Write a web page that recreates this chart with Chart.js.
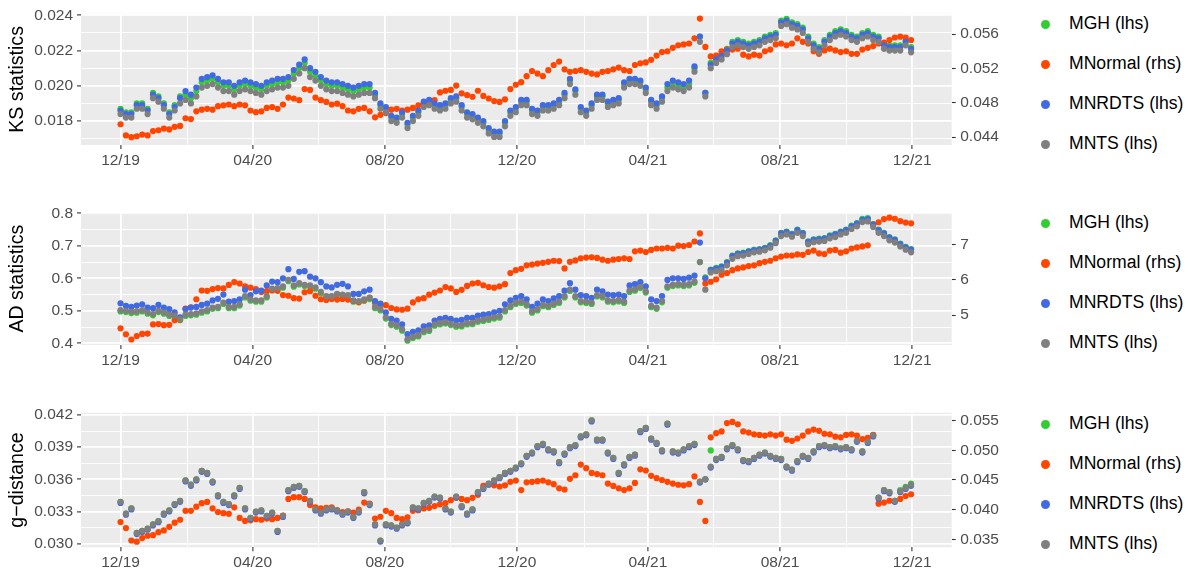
<!DOCTYPE html>
<html>
<head>
<meta charset="utf-8">
<script src="https://cdn.jsdelivr.net/npm/chart.js@4.4.1/dist/chart.umd.min.js"></script>
<style>
  html, body { margin: 0; padding: 0; background: #ffffff; }
  #wrap { position: relative; width: 1193px; height: 574px; overflow: hidden;
          font-family: "Liberation Sans", Arial, Helvetica, sans-serif; }
  #wrap canvas { position: absolute; left: 0; }
  .key { position: absolute; left: 1040px; height: 0; width: 150px; }
  .key .dot { position: absolute; left: 0.5px; top: -4.5px; width: 9px; height: 9px; border-radius: 50%; }
  .key .txt { position: absolute; left: 29px; top: 0; transform: translateY(-50%);
              font-size: 17.6px; line-height: 1; white-space: nowrap; color: #000; }
</style>
</head>
<body>
<div id="wrap">
  <canvas id="ks" width="1010" height="180" style="top:0px"></canvas>
  <canvas id="ad" width="1010" height="185" style="top:190px"></canvas>
  <canvas id="gd" width="1010" height="184" style="top:390px"></canvas>
</div>
<script>
// Daily statistics sampled every five days, starting 1 December 2019.
const START = Date.UTC(2019, 11, 1);
const STEP_DAYS = 5;
const DAY_MS = 86400000;

// ---- KS statistics ----
const ksMNTS = [
  0.0184, 0.0182, 0.0182, 0.0187, 0.0187, 0.0184, 0.0193, 0.0191, 0.0187, 0.0182,
  0.0186, 0.0190, 0.0192, 0.0190, 0.0194, 0.0199, 0.0200, 0.0201, 0.0199, 0.0197,
  0.0197, 0.0195, 0.0197, 0.0198, 0.0197, 0.0196, 0.0195, 0.0197, 0.0198, 0.0199,
  0.0199, 0.0200, 0.0204, 0.0207, 0.0210, 0.0205, 0.0203, 0.0200, 0.0198, 0.0197,
  0.0197, 0.0196, 0.0195, 0.0194, 0.0195, 0.0196, 0.0196, 0.0193, 0.0187, 0.0185,
  0.0180, 0.0179, 0.0182, 0.0176, 0.0180, 0.0183, 0.0188, 0.0189, 0.0187, 0.0186,
  0.0187, 0.0190, 0.0191, 0.0186, 0.0182, 0.0181, 0.0179, 0.0177, 0.0173, 0.0171,
  0.0171, 0.0177, 0.0183, 0.0185, 0.0189, 0.0189, 0.0184, 0.0183, 0.0186, 0.0186,
  0.0187, 0.0189, 0.0193, 0.0201, 0.0195, 0.0185, 0.0183, 0.0187, 0.0192, 0.0192,
  0.0188, 0.0189, 0.0190, 0.0199, 0.0201, 0.0201, 0.0200, 0.0196, 0.0189, 0.0187,
  0.0191, 0.0197, 0.0199, 0.0198, 0.0197, 0.0199, 0.0208, 0.0225, 0.0194, 0.0210,
  0.0213, 0.0215, 0.0218, 0.0222, 0.0223, 0.0222, 0.0221, 0.0222, 0.0223, 0.0225,
  0.0226, 0.0227, 0.0234, 0.0235, 0.0233, 0.0232, 0.0230, 0.0225, 0.0221, 0.0219,
  0.0223, 0.0226, 0.0228, 0.0229, 0.0228, 0.0226, 0.0225, 0.0227, 0.0228, 0.0226,
  0.0225, 0.0221, 0.0220, 0.0220, 0.0220, 0.0223, 0.0219
];
const ksMNRDTS = [
  0.0186, 0.0184, 0.0184, 0.0189, 0.0189, 0.0186, 0.0195, 0.0193, 0.0189, 0.0184,
  0.0188, 0.0193, 0.0197, 0.0195, 0.0199, 0.0204, 0.0205, 0.0206, 0.0204, 0.0202,
  0.0202, 0.0200, 0.0202, 0.0203, 0.0202, 0.0201, 0.0200, 0.0202, 0.0203, 0.0204,
  0.0204, 0.0205, 0.0209, 0.0212, 0.0215, 0.0210, 0.0208, 0.0205, 0.0203, 0.0202,
  0.0202, 0.0201, 0.0200, 0.0199, 0.0200, 0.0201, 0.0201, 0.0196, 0.0190, 0.0188,
  0.0183, 0.0182, 0.0185, 0.0179, 0.0183, 0.0186, 0.0191, 0.0192, 0.0190, 0.0189,
  0.0190, 0.0193, 0.0194, 0.0189, 0.0185, 0.0184, 0.0182, 0.0180, 0.0176, 0.0174,
  0.0174, 0.0180, 0.0186, 0.0188, 0.0192, 0.0192, 0.0187, 0.0186, 0.0189, 0.0189,
  0.0190, 0.0192, 0.0196, 0.0204, 0.0198, 0.0188, 0.0186, 0.0190, 0.0195, 0.0195,
  0.0191, 0.0192, 0.0193, 0.0202, 0.0204, 0.0204, 0.0203, 0.0199, 0.0192, 0.0190,
  0.0194, 0.0201, 0.0203, 0.0202, 0.0201, 0.0203, 0.0211, 0.0228, 0.0196, 0.0212,
  0.0215, 0.0217, 0.0220, 0.0224, 0.0225, 0.0224, 0.0223, 0.0224, 0.0225, 0.0227,
  0.0228, 0.0229, 0.0236, 0.0237, 0.0235, 0.0234, 0.0232, 0.0227, 0.0223, 0.0221,
  0.0225, 0.0228, 0.0230, 0.0231, 0.0230, 0.0228, 0.0227, 0.0229, 0.0230, 0.0228,
  0.0227, 0.0223, 0.0222, 0.0222, 0.0222, 0.0225, 0.0221
];
const ksMGH = [
  0.0187, 0.0185, 0.0185, 0.0190, 0.0190, 0.0187, 0.0196, 0.0194, 0.0190, 0.0185,
  0.0189, 0.0194, 0.0195, 0.0193, 0.0197, 0.0202, 0.0203, 0.0204, 0.0202, 0.0200,
  0.0200, 0.0198, 0.0200, 0.0201, 0.0200, 0.0199, 0.0198, 0.0200, 0.0201, 0.0202,
  0.0202, 0.0203, 0.0207, 0.0210, 0.0213, 0.0208, 0.0206, 0.0203, 0.0201, 0.0200,
  0.0200, 0.0199, 0.0198, 0.0197, 0.0198, 0.0199, 0.0199, 0.0195, 0.0189, 0.0187,
  0.0182, 0.0181, 0.0184, 0.0178, 0.0182, 0.0185, 0.0190, 0.0191, 0.0189, 0.0188,
  0.0189, 0.0192, 0.0193, 0.0188, 0.0184, 0.0183, 0.0181, 0.0179, 0.0175, 0.0173,
  0.0173, 0.0179, 0.0185, 0.0187, 0.0191, 0.0191, 0.0186, 0.0185, 0.0188, 0.0188,
  0.0189, 0.0191, 0.0195, 0.0203, 0.0197, 0.0187, 0.0185, 0.0189, 0.0194, 0.0194,
  0.0190, 0.0191, 0.0192, 0.0201, 0.0203, 0.0203, 0.0202, 0.0198, 0.0191, 0.0189,
  0.0193, 0.0199, 0.0201, 0.0200, 0.0199, 0.0201, 0.0210, 0.0228, 0.0196, 0.0213,
  0.0216, 0.0218, 0.0221, 0.0225, 0.0226, 0.0225, 0.0224, 0.0225, 0.0226, 0.0228,
  0.0229, 0.0230, 0.0237, 0.0238, 0.0236, 0.0235, 0.0233, 0.0228, 0.0224, 0.0222,
  0.0226, 0.0229, 0.0231, 0.0232, 0.0231, 0.0229, 0.0228, 0.0230, 0.0231, 0.0229,
  0.0228, 0.0224, 0.0223, 0.0223, 0.0223, 0.0226, 0.0222
];
const ksMNormal = [
  0.0455, 0.0442, 0.0440, 0.0441, 0.0443, 0.0442, 0.0447, 0.0448, 0.0450, 0.0449,
  0.0452, 0.0453, 0.0462, 0.0461, 0.0470, 0.0472, 0.0473, 0.0472, 0.0476, 0.0477,
  0.0478, 0.0476, 0.0478, 0.0477, 0.0471, 0.0469, 0.0470, 0.0474, 0.0475, 0.0473,
  0.0478, 0.0486, 0.0485, 0.0483, 0.0496, 0.0495, 0.0486, 0.0483, 0.0481, 0.0478,
  0.0479, 0.0476, 0.0471, 0.0470, 0.0473, 0.0474, 0.0470, 0.0463, 0.0466, 0.0468,
  0.0472, 0.0473, 0.0471, 0.0472, 0.0474, 0.0477, 0.0478, 0.0481, 0.0483, 0.0492,
  0.0494, 0.0495, 0.0500, 0.0491, 0.0489, 0.0487, 0.0494, 0.0488, 0.0485, 0.0482,
  0.0481, 0.0484, 0.0496, 0.0501, 0.0504, 0.0511, 0.0517, 0.0514, 0.0511, 0.0518,
  0.0524, 0.0528, 0.0519, 0.0516, 0.0517, 0.0518, 0.0516, 0.0514, 0.0513, 0.0516,
  0.0517, 0.0519, 0.0521, 0.0518, 0.0517, 0.0524, 0.0526, 0.0527, 0.0530, 0.0535,
  0.0539, 0.0540, 0.0544, 0.0547, 0.0548, 0.0549, 0.0555, 0.0578, 0.0545, 0.0534,
  0.0535, 0.0540, 0.0542, 0.0542, 0.0543, 0.0536, 0.0534, 0.0536, 0.0535, 0.0540,
  0.0542, 0.0548, 0.0549, 0.0547, 0.0549, 0.0555, 0.0551, 0.0549, 0.0540, 0.0537,
  0.0541, 0.0543, 0.0541, 0.0539, 0.0540, 0.0537, 0.0537, 0.0542, 0.0544, 0.0546,
  0.0549, 0.0550, 0.0553, 0.0556, 0.0557, 0.0556, 0.0553
];

// ---- AD statistics ----
const adMNTS = [
  0.502, 0.500, 0.497, 0.498, 0.502, 0.495, 0.490, 0.500, 0.495, 0.488,
  0.485, 0.475, 0.488, 0.490, 0.492, 0.498, 0.502, 0.510, 0.512, 0.525,
  0.512, 0.512, 0.520, 0.545, 0.535, 0.532, 0.532, 0.545, 0.568, 0.570,
  0.575, 0.595, 0.578, 0.585, 0.580, 0.578, 0.572, 0.558, 0.545, 0.545,
  0.552, 0.550, 0.548, 0.532, 0.530, 0.535, 0.540, 0.512, 0.505, 0.480,
  0.460, 0.455, 0.443, 0.412, 0.420, 0.425, 0.438, 0.442, 0.458, 0.462,
  0.465, 0.460, 0.455, 0.456, 0.462, 0.463, 0.470, 0.473, 0.476, 0.480,
  0.483, 0.502, 0.515, 0.525, 0.528, 0.520, 0.498, 0.505, 0.518, 0.515,
  0.522, 0.528, 0.545, 0.565, 0.545, 0.530, 0.528, 0.525, 0.548, 0.545,
  0.532, 0.530, 0.533, 0.528, 0.562, 0.566, 0.574, 0.560, 0.515, 0.510,
  0.530, 0.575, 0.580, 0.582, 0.580, 0.582, 0.590, 0.650, 0.565, 0.618,
  0.622, 0.625, 0.640, 0.660, 0.668, 0.670, 0.675, 0.680, 0.682, 0.686,
  0.694, 0.708, 0.730, 0.735, 0.728, 0.740, 0.730, 0.705, 0.711, 0.713,
  0.715, 0.723, 0.727, 0.735, 0.740, 0.752, 0.760, 0.773, 0.775, 0.758,
  0.740, 0.730, 0.717, 0.710, 0.698, 0.688, 0.680
];
const adMNRDTS = [
  0.523, 0.515, 0.512, 0.516, 0.520, 0.510, 0.508, 0.518, 0.510, 0.505,
  0.495, 0.480, 0.505, 0.510, 0.512, 0.518, 0.522, 0.532, 0.537, 0.550,
  0.528, 0.530, 0.535, 0.565, 0.548, 0.560, 0.562, 0.578, 0.590, 0.588,
  0.600, 0.628, 0.598, 0.620, 0.622, 0.605, 0.600, 0.588, 0.575, 0.572,
  0.580, 0.583, 0.575, 0.552, 0.552, 0.560, 0.565, 0.530, 0.522, 0.495,
  0.475, 0.470, 0.458, 0.428, 0.435, 0.440, 0.452, 0.455, 0.470, 0.475,
  0.478, 0.475, 0.470, 0.472, 0.478, 0.478, 0.485, 0.488, 0.490, 0.495,
  0.500, 0.520, 0.532, 0.540, 0.545, 0.535, 0.512, 0.522, 0.535, 0.530,
  0.538, 0.545, 0.562, 0.585, 0.565, 0.548, 0.545, 0.540, 0.565, 0.560,
  0.550, 0.548, 0.550, 0.545, 0.578, 0.582, 0.588, 0.575, 0.535, 0.530,
  0.545, 0.595, 0.600, 0.600, 0.598, 0.602, 0.608, 0.710, 0.600, 0.625,
  0.630, 0.635, 0.648, 0.668, 0.675, 0.677, 0.682, 0.686, 0.688, 0.692,
  0.700, 0.715, 0.738, 0.742, 0.735, 0.748, 0.738, 0.712, 0.718, 0.720,
  0.722, 0.730, 0.735, 0.742, 0.748, 0.760, 0.768, 0.780, 0.782, 0.765,
  0.748, 0.738, 0.725, 0.718, 0.705, 0.695, 0.688
];
const adMGH = [
  0.498, 0.496, 0.493, 0.494, 0.498, 0.491, 0.486, 0.496, 0.491, 0.484,
  0.481, 0.471, 0.484, 0.486, 0.488, 0.494, 0.498, 0.506, 0.508, 0.521,
  0.508, 0.508, 0.516, 0.541, 0.531, 0.528, 0.528, 0.541, 0.564, 0.566,
  0.571, 0.591, 0.574, 0.581, 0.576, 0.574, 0.568, 0.554, 0.541, 0.541,
  0.548, 0.546, 0.544, 0.528, 0.526, 0.531, 0.536, 0.508, 0.501, 0.476,
  0.456, 0.451, 0.439, 0.408, 0.416, 0.421, 0.434, 0.438, 0.454, 0.458,
  0.461, 0.456, 0.451, 0.452, 0.458, 0.459, 0.466, 0.469, 0.472, 0.476,
  0.479, 0.498, 0.511, 0.521, 0.524, 0.516, 0.494, 0.501, 0.514, 0.511,
  0.518, 0.524, 0.541, 0.561, 0.541, 0.526, 0.524, 0.521, 0.544, 0.541,
  0.528, 0.526, 0.529, 0.524, 0.558, 0.562, 0.570, 0.556, 0.511, 0.506,
  0.526, 0.571, 0.576, 0.578, 0.576, 0.578, 0.586, 0.650, 0.603, 0.627,
  0.632, 0.637, 0.650, 0.670, 0.677, 0.679, 0.684, 0.688, 0.690, 0.694,
  0.702, 0.717, 0.740, 0.744, 0.737, 0.750, 0.740, 0.714, 0.720, 0.722,
  0.724, 0.732, 0.737, 0.744, 0.750, 0.762, 0.770, 0.783, 0.785, 0.767,
  0.750, 0.740, 0.727, 0.720, 0.707, 0.697, 0.690
];
const adMNormal = [
  4.62, 4.45, 4.30, 4.40, 4.46, 4.47, 4.73, 4.74, 4.71, 4.72,
  4.85, 4.87, 5.18, 5.22, 5.45, 5.70, 5.69, 5.74, 5.77, 5.76,
  5.86, 5.94, 5.90, 5.82, 5.78, 5.74, 5.66, 5.68, 5.70, 5.69,
  5.57, 5.55, 5.48, 5.47, 5.65, 5.68, 5.55, 5.45, 5.43, 5.46,
  5.44, 5.46, 5.44, 5.40, 5.37, 5.42, 5.50, 5.35, 5.30, 5.28,
  5.20, 5.16, 5.15, 5.18, 5.36, 5.45, 5.48, 5.58, 5.64, 5.70,
  5.80, 5.76, 5.66, 5.72, 5.83, 5.90, 5.92, 5.85, 5.80, 5.78,
  5.82, 5.88, 6.20, 6.28, 6.32, 6.42, 6.44, 6.47, 6.49, 6.52,
  6.55, 6.54, 6.33, 6.52, 6.56, 6.62, 6.64, 6.65, 6.63, 6.58,
  6.55, 6.58, 6.60, 6.62, 6.60, 6.82, 6.84, 6.80, 6.86, 6.90,
  6.90, 6.92, 6.90, 6.98, 6.97, 7.00, 7.10, 7.33, 5.90, 5.95,
  6.02, 6.15, 6.20, 6.28, 6.33, 6.36, 6.40, 6.42, 6.48, 6.52,
  6.55, 6.62, 6.67, 6.70, 6.70, 6.73, 6.72, 6.80, 6.84, 6.76,
  6.74, 6.84, 6.86, 6.78, 6.82, 6.90, 6.93, 6.96, 6.99, 7.58,
  7.65, 7.74, 7.78, 7.75, 7.68, 7.64, 7.62
];

// ---- g-distance ----
const gdMNTS = [
  0.0339, 0.0328, 0.0333, 0.0310, 0.0312, 0.0314, 0.0318, 0.0321, 0.0328, 0.0331,
  0.0337, 0.0340, 0.0359, 0.0355, 0.0360, 0.0368, 0.0366, 0.0358, 0.0345, 0.0339,
  0.0337, 0.0345, 0.0352, 0.0333, 0.0324, 0.0330, 0.0331, 0.0326, 0.0329, 0.0312,
  0.0326, 0.0350, 0.0353, 0.0354, 0.0349, 0.0340, 0.0332, 0.0329, 0.0332, 0.0333,
  0.0331, 0.0328, 0.0330, 0.0325, 0.0330, 0.0348, 0.0337, 0.0318, 0.0303, 0.0318,
  0.0317, 0.0315, 0.0318, 0.0320, 0.0334, 0.0333, 0.0338, 0.0340, 0.0344, 0.0343,
  0.0333, 0.0330, 0.0344, 0.0335, 0.0328, 0.0332, 0.0348, 0.0352, 0.0356, 0.0359,
  0.0362, 0.0366, 0.0368, 0.0371, 0.0375, 0.0382, 0.0385, 0.0391, 0.0393, 0.0388,
  0.0386, 0.0376, 0.0384, 0.0390, 0.0392, 0.0400, 0.0402, 0.0415, 0.0397, 0.0397,
  0.0385, 0.0380, 0.0366, 0.0374, 0.0381, 0.0383, 0.0405, 0.0408, 0.0398, 0.0394,
  0.0387, 0.0412, 0.0386, 0.0385, 0.0388, 0.0391, 0.0393, 0.0358, 0.0360, 0.0372,
  0.0379, 0.0381, 0.0389, 0.0392, 0.0388, 0.0378, 0.0377, 0.0380, 0.0383, 0.0385,
  0.0382, 0.0380, 0.0379, 0.0372, 0.0369, 0.0377, 0.0382, 0.0380, 0.0386, 0.0391,
  0.0392, 0.0390, 0.0391, 0.0389, 0.0390, 0.0388, 0.0396, 0.0386, 0.0395, 0.0401,
  0.0343, 0.0350, 0.0348, 0.0340, 0.0349, 0.0352, 0.0355
];
const gdMNRDTS = [
  0.0338, 0.0327, 0.0332, 0.0309, 0.0311, 0.0313, 0.0317, 0.0320, 0.0327, 0.0330,
  0.0336, 0.0339, 0.0358, 0.0354, 0.0359, 0.0367, 0.0365, 0.0357, 0.0344, 0.0338,
  0.0336, 0.0344, 0.0351, 0.0332, 0.0323, 0.0329, 0.0330, 0.0325, 0.0328, 0.0311,
  0.0325, 0.0349, 0.0352, 0.0353, 0.0348, 0.0339, 0.0331, 0.0328, 0.0331, 0.0332,
  0.0330, 0.0327, 0.0329, 0.0324, 0.0329, 0.0347, 0.0336, 0.0317, 0.0302, 0.0317,
  0.0316, 0.0314, 0.0317, 0.0319, 0.0333, 0.0332, 0.0337, 0.0339, 0.0343, 0.0342,
  0.0332, 0.0329, 0.0343, 0.0334, 0.0327, 0.0331, 0.0347, 0.0351, 0.0355, 0.0358,
  0.0361, 0.0365, 0.0367, 0.0370, 0.0374, 0.0381, 0.0384, 0.0390, 0.0392, 0.0387,
  0.0385, 0.0375, 0.0383, 0.0389, 0.0391, 0.0399, 0.0401, 0.0414, 0.0396, 0.0396,
  0.0384, 0.0379, 0.0365, 0.0373, 0.0380, 0.0382, 0.0404, 0.0407, 0.0397, 0.0393,
  0.0386, 0.0411, 0.0385, 0.0384, 0.0387, 0.0390, 0.0392, 0.0357, 0.0360, 0.0371,
  0.0378, 0.0380, 0.0388, 0.0391, 0.0387, 0.0377, 0.0376, 0.0379, 0.0382, 0.0384,
  0.0381, 0.0379, 0.0378, 0.0371, 0.0368, 0.0376, 0.0381, 0.0379, 0.0385, 0.0390,
  0.0391, 0.0389, 0.0390, 0.0388, 0.0389, 0.0387, 0.0395, 0.0385, 0.0394, 0.0400,
  0.0342, 0.0349, 0.0347, 0.0339, 0.0348, 0.0351, 0.0354
];
const gdMGH = [
  0.0339, 0.0328, 0.0333, 0.0310, 0.0312, 0.0314, 0.0318, 0.0321, 0.0328, 0.0331,
  0.0337, 0.0340, 0.0359, 0.0355, 0.0360, 0.0368, 0.0366, 0.0358, 0.0345, 0.0339,
  0.0337, 0.0345, 0.0352, 0.0333, 0.0324, 0.0330, 0.0331, 0.0326, 0.0329, 0.0312,
  0.0326, 0.0350, 0.0353, 0.0354, 0.0349, 0.0340, 0.0332, 0.0329, 0.0332, 0.0333,
  0.0331, 0.0328, 0.0330, 0.0325, 0.0330, 0.0348, 0.0337, 0.0318, 0.0303, 0.0318,
  0.0317, 0.0315, 0.0318, 0.0320, 0.0334, 0.0333, 0.0338, 0.0340, 0.0344, 0.0343,
  0.0333, 0.0330, 0.0344, 0.0335, 0.0328, 0.0332, 0.0348, 0.0352, 0.0356, 0.0359,
  0.0362, 0.0366, 0.0368, 0.0371, 0.0375, 0.0382, 0.0385, 0.0391, 0.0393, 0.0388,
  0.0386, 0.0376, 0.0384, 0.0390, 0.0392, 0.0400, 0.0402, 0.0415, 0.0397, 0.0397,
  0.0385, 0.0380, 0.0366, 0.0374, 0.0381, 0.0383, 0.0405, 0.0408, 0.0398, 0.0394,
  0.0387, 0.0412, 0.0386, 0.0385, 0.0388, 0.0391, 0.0393, 0.0358, 0.0360, 0.0387,
  0.0379, 0.0381, 0.0389, 0.0392, 0.0388, 0.0378, 0.0377, 0.0380, 0.0383, 0.0385,
  0.0382, 0.0380, 0.0379, 0.0372, 0.0369, 0.0377, 0.0382, 0.0380, 0.0386, 0.0391,
  0.0392, 0.0390, 0.0391, 0.0389, 0.0390, 0.0388, 0.0396, 0.0386, 0.0395, 0.0401,
  0.0343, 0.0350, 0.0348, 0.0340, 0.0350, 0.0353, 0.0356
];
const gdMNormal = [
  0.0379, 0.0369, 0.0348, 0.0346, 0.0352, 0.0356, 0.0357, 0.0362, 0.0365, 0.0371,
  0.0378, 0.0383, 0.0398, 0.0398, 0.0405, 0.0411, 0.0413, 0.0402, 0.0396, 0.0394,
  0.0393, 0.0404, 0.0386, 0.0381, 0.0382, 0.0384, 0.0383, 0.0385, 0.0384, 0.0386,
  0.0390, 0.0418, 0.0421, 0.0421, 0.0418, 0.0408, 0.0404, 0.0402, 0.0403, 0.0404,
  0.0399, 0.0396, 0.0397, 0.0395, 0.0400, 0.0412, 0.0410, 0.0385, 0.0388, 0.0398,
  0.0394, 0.0386, 0.0384, 0.0387, 0.0398, 0.0399, 0.0402, 0.0403, 0.0406, 0.0409,
  0.0411, 0.0416, 0.0420, 0.0418, 0.0416, 0.0420, 0.0425, 0.0440, 0.0443, 0.0441,
  0.0439, 0.0441, 0.0447, 0.0449, 0.0433, 0.0446, 0.0447, 0.0448, 0.0449, 0.0446,
  0.0443, 0.0436, 0.0434, 0.0452, 0.0458, 0.0476, 0.0470, 0.0462, 0.0460, 0.0458,
  0.0444, 0.0440, 0.0436, 0.0433, 0.0436, 0.0445, 0.0468, 0.0466, 0.0457, 0.0453,
  0.0450, 0.0447, 0.0444, 0.0442, 0.0441, 0.0443, 0.0456, 0.0413, 0.0381, 0.0522,
  0.0529, 0.0532, 0.0546, 0.0548, 0.0544, 0.0532, 0.0530, 0.0527, 0.0526, 0.0525,
  0.0527, 0.0525, 0.0527, 0.0518, 0.0516, 0.0520, 0.0525, 0.0532, 0.0535, 0.0533,
  0.0528, 0.0527, 0.0523, 0.0522, 0.0526, 0.0527, 0.0525, 0.0519, 0.0521, 0.0526,
  0.0410, 0.0412, 0.0415, 0.0414, 0.0418, 0.0423, 0.0426
];

// Axis breaks
const ksLeftBreaks = [0.018, 0.020, 0.022, 0.024];
const ksRightBreaks = [0.044, 0.048, 0.052, 0.056];
const adLeftBreaks = [0.4, 0.5, 0.6, 0.7, 0.8];
const adRightBreaks = [5, 6, 7];
const gdLeftBreaks = [0.030, 0.033, 0.036, 0.039, 0.042];
const gdRightBreaks = [0.035, 0.040, 0.045, 0.050, 0.055];

const FONT = '"Liberation Sans", Arial, Helvetica, sans-serif';
Chart.defaults.font.family = FONT;

const SERIES = [
  { key: 'MGH', label: 'MGH (lhs)', color: '#32CD32', axis: 'yL' },
  { key: 'MNormal', label: 'MNormal (rhs)', color: '#FF4500', axis: 'yR' },
  { key: 'MNRDTS', label: 'MNRDTS (lhs)', color: '#4169E1', axis: 'yL' },
  { key: 'MNTS', label: 'MNTS (lhs)', color: '#7F7F7F', axis: 'yL' }
];

const PANELS = [
  { id: 'ks', title: 'KS statistics', canvasTop: 0, plotTop: 11.7, plotBottom: 145, legendTop: 24,
    left: { min: 0.016642, max: 0.024089, breaks: ksLeftBreaks, digits: 3 },
    right: { min: 0.043083, max: 0.058361, breaks: ksRightBreaks, digits: 3 },
    data: { MGH: ksMGH, MNormal: ksMNormal, MNRDTS: ksMNRDTS, MNTS: ksMNTS } },
  { id: 'ad', title: 'AD statistics', canvasTop: 190, plotTop: 212.3, plotBottom: 345, legendTop: 223,
    left: { min: 0.39477, max: 0.80308, breaks: adLeftBreaks, digits: 1 },
    right: { min: 4.143, max: 7.934, breaks: adRightBreaks, digits: 0 },
    data: { MGH: adMGH, MNormal: adMNormal, MNRDTS: adMNRDTS, MNTS: adMNTS } },
  { id: 'gd', title: 'g\u2212distance', canvasTop: 390, plotTop: 412.7, plotBottom: 547.3, legendTop: 424,
    left: { min: 0.029664, max: 0.042214, breaks: gdLeftBreaks, digits: 3 },
    right: { min: 0.03365, max: 0.05635, breaks: gdRightBreaks, digits: 3 },
    data: { MGH: gdMGH, MNormal: gdMNormal, MNRDTS: gdMNRDTS, MNTS: gdMNTS } }
];

// Month gridlines every two months; labels every four months
const monthTicks = [];
for (let k = 0; k <= 12; k++) {
  const d = new Date(Date.UTC(2019, 11 + 2 * k, 1));
  monthTicks.push({
    value: (d.getTime() - START) / DAY_MS,
    major: k % 2 === 0,
    text: String(d.getUTCMonth() + 1).padStart(2, '0') + '/' + String(d.getUTCFullYear() % 100).padStart(2, '0')
  });
}

// Left-axis ticks: breaks plus minor midpoints inside the range
function leftTicks(cfg) {
  const b = cfg.breaks, step = b[1] - b[0], out = [];
  const first = b[0] - step / 2;
  if (first >= cfg.min) out.push({ value: first, major: false });
  b.forEach((v, i) => {
    out.push({ value: v, major: true });
    const mid = v + step / 2;
    if (i < b.length - 1 || mid <= cfg.max) out.push({ value: mid, major: false });
  });
  return out.filter(t => t.value >= cfg.min - 1e-12 && t.value <= cfg.max + 1e-12);
}

const CANVAS_W = 1010;
const PLOT_LEFT = 81;
const PLOT_RIGHT = 951.7;
const POINT_R = 3.1;

const panelBackground = {
  id: 'panelBackground',
  beforeDraw(chart) {
    const a = chart.chartArea;
    const ctx = chart.ctx;
    ctx.save();
    ctx.fillStyle = '#EBEBEB';
    ctx.fillRect(a.left, a.top, a.right - a.left, a.bottom - a.top);
    ctx.restore();
  }
};

const gridStyle = {
  color: '#FFFFFF',
  lineWidth: c => (c.tick && c.tick.major ? 1.8 : 0.9),
  drawTicks: true,
  tickLength: 4,
  tickWidth: 1.1,
  tickColor: c => (c.tick && c.tick.major ? '#333333' : 'rgba(0,0,0,0)')
};
const tickFont = { size: 15.5, family: FONT };

PANELS.forEach(p => {
  const canvas = document.getElementById(p.id);
  const H = canvas.height;
  const xDays = p.data.MNTS.map((_, i) => i * STEP_DAYS);
  // Draw order: the first dataset ends up on top
  const order = ['MNTS', 'MNRDTS', 'MNormal', 'MGH'];
  const datasets = order.map(k => {
    const s = SERIES.find(z => z.key === k);
    return {
      label: s.label,
      data: p.data[k].map((v, i) => ({ x: xDays[i], y: v })),
      yAxisID: s.axis,
      backgroundColor: s.color,
      borderWidth: 0,
      pointRadius: POINT_R,
      pointHoverRadius: POINT_R,
      pointBorderWidth: 0,
      showLine: false
    };
  });
  const lt = leftTicks(p.left);

  new Chart(canvas, {
    type: 'scatter',
    data: { datasets },
    options: {
      responsive: false,
      animation: false,
      events: [],
      layout: { padding: { top: p.plotTop - p.canvasTop, left: 0, right: 0, bottom: 0 } },
      plugins: { legend: { display: false }, tooltip: { enabled: false } },
      scales: {
        x: {
          type: 'linear', position: 'bottom', bounds: 'data', min: -36.5, max: 767.5,
          afterBuildTicks: s => { s.ticks = monthTicks.map(t => ({ value: t.value, major: t.major })); },
          afterFit: s => { s.height = H - (p.plotBottom - p.canvasTop); },
          grid: gridStyle,
          border: { display: false },
          ticks: {
            autoSkip: false, maxRotation: 0, minRotation: 0, padding: 2, color: '#4D4D4D', font: tickFont,
            callback: (v, i) => (monthTicks[i] && monthTicks[i].major ? monthTicks[i].text : '')
          }
        },
        yL: {
          type: 'linear', position: 'left', bounds: 'data', min: p.left.min, max: p.left.max,
          afterBuildTicks: s => { s.ticks = lt.map(t => ({ value: t.value, major: t.major })); },
          afterFit: s => { s.width = PLOT_LEFT; },
          grid: gridStyle,
          border: { display: false },
          title: { display: true, text: p.title, color: '#000000', font: { size: 19.6, family: FONT },
                   padding: { top: 5.7, bottom: 0 } },
          ticks: {
            autoSkip: false, padding: 4, color: '#4D4D4D', font: tickFont,
            callback: (v, i) => (lt[i] && lt[i].major ? lt[i].value.toFixed(p.left.digits) : '')
          }
        },
        yR: {
          type: 'linear', position: 'right', bounds: 'data', min: p.right.min, max: p.right.max,
          afterBuildTicks: s => { s.ticks = p.right.breaks.map(v => ({ value: v, major: true })); },
          afterFit: s => { s.width = CANVAS_W - PLOT_RIGHT; },
          grid: { drawOnChartArea: false, drawTicks: true, tickLength: 4, tickWidth: 1.1, tickColor: '#333333' },
          border: { display: false },
          ticks: {
            autoSkip: false, padding: 4.5, color: '#4D4D4D', font: tickFont,
            callback: (v, i) => p.right.breaks[i].toFixed(p.right.digits)
          }
        }
      }
    },
    plugins: [panelBackground]
  });
});

// Legend beside each panel
const LEGEND_GAP = 40.1;
const wrap = document.getElementById('wrap');
PANELS.forEach(p => {
  SERIES.forEach((s, k) => {
    const item = document.createElement('div');
    item.className = 'key';
    item.style.top = (p.legendTop + k * LEGEND_GAP) + 'px';
    const dot = document.createElement('span');
    dot.className = 'dot';
    dot.style.background = s.color;
    const txt = document.createElement('span');
    txt.className = 'txt';
    txt.textContent = s.label;
    item.appendChild(dot);
    item.appendChild(txt);
    wrap.appendChild(item);
  });
});
</script>
</body>
</html>
